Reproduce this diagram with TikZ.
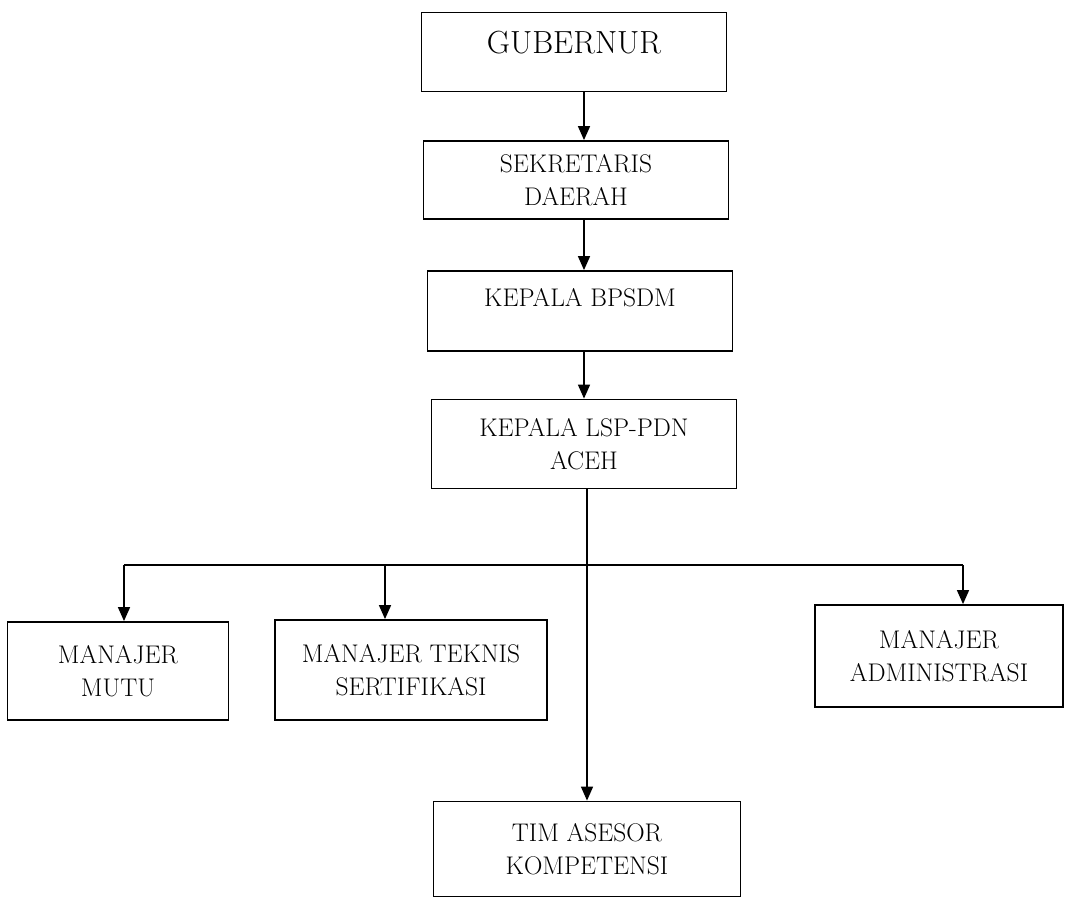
\documentclass[tikz,border=0pt]{standalone}
\usepackage{tikz}
\usetikzlibrary{arrows.meta,positioning}

\begin{document}
\begin{tikzpicture}[x=1pt,y=-1pt,
        box/.style = {draw = black, line width=1.8pt, rectangle, inner sep=0pt,
            align=center, font=\fontsize{25.5}{33}\selectfont},
        line/.style = {draw = black, line width=1.5pt,
            -{Triangle[length=14pt,width=12pt]}}]
    \useasboundingbox (0,0) rectangle (1066,899);
    % top chain
    \node[box, minimum width=305pt, minimum height=79pt, text depth=20pt,
        font=\fontsize{32}{38}\selectfont] (gub) at (574,52) {GUBERNUR};
    \node[box, minimum width=305pt, minimum height=78pt] (sek) at (576,180) {SEKRETARIS\\DAERAH};
    \node[box, minimum width=305pt, minimum height=80pt, text depth=28pt] (bps) at (580,311) {KEPALA BPSDM};
    \node[box, minimum width=305pt, minimum height=89pt] (lsp) at (584,444) {KEPALA LSP-PDN\\ACEH};
    % bottom row
    \foreach \name/\x/\y/\w/\h/\txt in {mutu/118/671/221/98/{MANAJER\\MUTU},
            tek/411/670/272/100/{MANAJER TEKNIS\\SERTIFIKASI},
            adm/939/656/248/102/{MANAJER\\ADMINISTRASI},
            tim/587/849/307/95/{TIM ASESOR\\KOMPETENSI}}
        \node[box, minimum width=\w pt, minimum height=\h pt] (\name) at (\x,\y) {\txt};
    % connectors
    \coordinate (spine) at (584,0);
    \foreach \a/\b in {gub/sek, sek/bps, bps/lsp}
        \path[line] (\a.south -| spine) -- (\b.north -| spine);
    \path[line] (lsp.south -| tim) -- (tim.north);
    \coordinate (b1) at (124,565);
    \coordinate (b2) at (385,565);
    \coordinate (b3) at (963,565);
    \draw[line width=1.5pt] (b1) -- (b3);
    \foreach \c/\n in {b1/mutu, b2/tek, b3/adm}
        \path[line] (\c) -- (\c |- \n.north);
\end{tikzpicture}
\end{document}
